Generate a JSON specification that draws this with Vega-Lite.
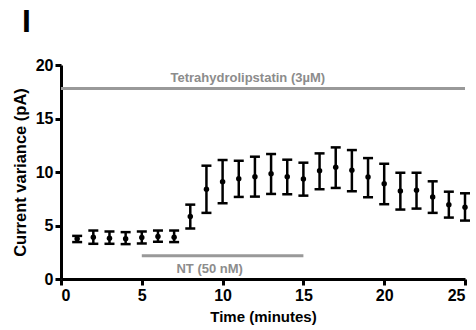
{
  "$schema": "https://vega.github.io/schema/vega-lite/v6.json",
  "width": 404,
  "height": 214,
  "autosize": {"type": "none"},
  "padding": {"left": 61, "top": 65, "right": 11, "bottom": 51},
  "background": "white",
  "title": {"text": "I", "anchor": "start", "frame": "group", "fontSize": 32, "fontWeight": "bold", "font": "Liberation Sans", "color": "black", "dx": -39, "offset": 18},
  "config": {
    "view": {"stroke": null},
    "axis": {"grid": false, "domainColor": "black", "tickColor": "black", "labelColor": "black", "titleColor": "black", "domainWidth": 3, "tickWidth": 3, "tickSize": 6, "labelFont": "Liberation Sans", "titleFont": "Liberation Sans", "labelFontWeight": "bold", "titleFontWeight": "bold", "labelFontSize": 16, "titleFontSize": 15, "labelPadding": 2}
  },
  "datasets": {
    "pts": [
      {"t": 1, "mean": 3.76, "lo": 3.45, "hi": 4.03},
      {"t": 2, "mean": 3.91, "lo": 3.29, "hi": 4.53},
      {"t": 3, "mean": 3.82, "lo": 3.29, "hi": 4.44},
      {"t": 4, "mean": 3.76, "lo": 3.26, "hi": 4.38},
      {"t": 5, "mean": 3.88, "lo": 3.32, "hi": 4.44},
      {"t": 6, "mean": 3.97, "lo": 3.48, "hi": 4.53},
      {"t": 7, "mean": 3.91, "lo": 3.45, "hi": 4.53},
      {"t": 8, "mean": 5.84, "lo": 4.72, "hi": 6.95},
      {"t": 9, "mean": 8.38, "lo": 6.18, "hi": 10.59},
      {"t": 10, "mean": 9.1, "lo": 7.08, "hi": 11.12},
      {"t": 11, "mean": 9.38, "lo": 7.67, "hi": 11.05},
      {"t": 12, "mean": 9.56, "lo": 7.7, "hi": 11.43},
      {"t": 13, "mean": 9.84, "lo": 7.95, "hi": 11.68},
      {"t": 14, "mean": 9.56, "lo": 7.92, "hi": 11.15},
      {"t": 15, "mean": 9.35, "lo": 7.79, "hi": 10.87},
      {"t": 16, "mean": 10.12, "lo": 8.39, "hi": 11.74},
      {"t": 17, "mean": 10.44, "lo": 8.51, "hi": 12.3},
      {"t": 18, "mean": 10.16, "lo": 8.2, "hi": 12.05},
      {"t": 19, "mean": 9.53, "lo": 7.64, "hi": 11.3},
      {"t": 20, "mean": 8.91, "lo": 6.99, "hi": 10.77},
      {"t": 21, "mean": 8.23, "lo": 6.49, "hi": 9.93},
      {"t": 22, "mean": 8.29, "lo": 6.58, "hi": 9.93},
      {"t": 23, "mean": 7.67, "lo": 6.18, "hi": 9.13},
      {"t": 24, "mean": 6.95, "lo": 5.74, "hi": 8.16},
      {"t": 25, "mean": 6.71, "lo": 5.46, "hi": 8.01}
    ],
    "bars": [
      {"label": "Tetrahydrolipstatin (3µM)", "start": 0, "end": 25, "level": 17.8, "tx": 11.56, "ty": 18.4},
      {"label": "NT (50 nM)", "start": 5, "end": 15, "level": 2.17, "tx": 9.2, "ty": 0.56}
    ]
  },
  "layer": [
    {
      "data": {"name": "bars"},
      "mark": {"type": "rule", "color": "#999999", "strokeWidth": 3},
      "encoding": {
        "x": {"field": "start", "type": "quantitative", "scale": {"domain": [0, 25], "nice": false}, "axis": {"values": [0, 5, 10, 15, 20, 25], "title": "Time (minutes)", "titlePadding": 6}},
        "x2": {"field": "end"},
        "y": {"field": "level", "type": "quantitative", "scale": {"domain": [0, 20], "nice": false}, "axis": {"values": [0, 5, 10, 15, 20], "title": "Current variance (pA)", "titleFontSize": 16.5, "titlePadding": 7}}
      }
    },
    {
      "data": {"name": "bars"},
      "mark": {"type": "text", "color": "#8c8c8c", "font": "Liberation Sans", "fontWeight": "bold", "fontSize": 13, "baseline": "alphabetic", "align": "center"},
      "encoding": {
        "x": {"field": "tx", "type": "quantitative"},
        "y": {"field": "ty", "type": "quantitative"},
        "text": {"field": "label"}
      }
    },
    {
      "data": {"name": "pts"},
      "mark": {"type": "rule", "color": "black", "strokeWidth": 2.5},
      "encoding": {
        "x": {"field": "t", "type": "quantitative"},
        "y": {"field": "lo", "type": "quantitative"},
        "y2": {"field": "hi"}
      }
    },
    {
      "data": {"name": "pts"},
      "mark": {"type": "tick", "color": "black", "orient": "horizontal", "size": 10, "thickness": 2.5, "opacity": 1},
      "encoding": {
        "x": {"field": "t", "type": "quantitative"},
        "y": {"field": "lo", "type": "quantitative"}
      }
    },
    {
      "data": {"name": "pts"},
      "mark": {"type": "tick", "color": "black", "orient": "horizontal", "size": 10, "thickness": 2.5, "opacity": 1},
      "encoding": {
        "x": {"field": "t", "type": "quantitative"},
        "y": {"field": "hi", "type": "quantitative"}
      }
    },
    {
      "data": {"name": "pts"},
      "mark": {"type": "point", "filled": true, "color": "black", "size": 30, "opacity": 1},
      "encoding": {
        "x": {"field": "t", "type": "quantitative"},
        "y": {"field": "mean", "type": "quantitative"}
      }
    }
  ]
}
